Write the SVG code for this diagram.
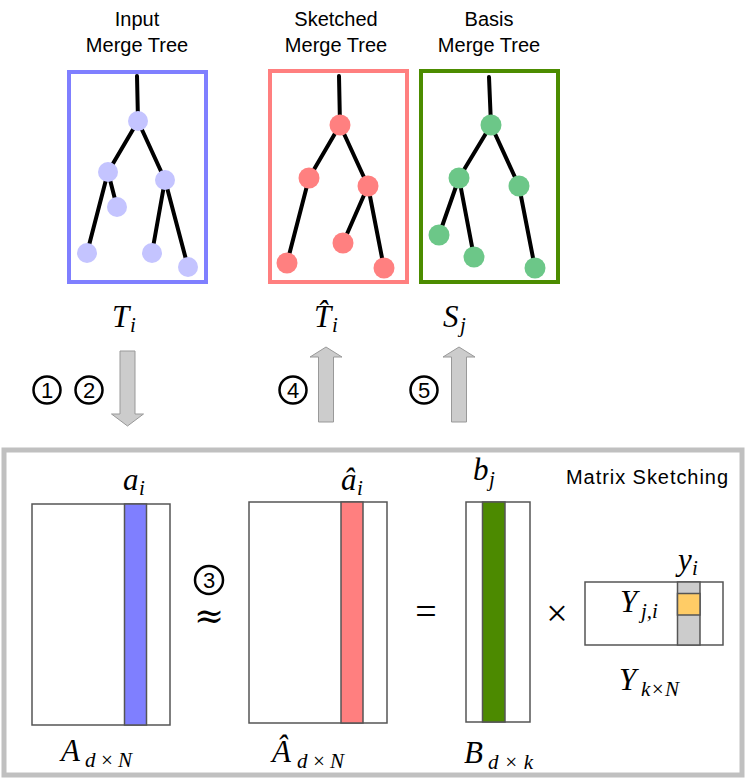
<svg xmlns="http://www.w3.org/2000/svg" width="747" height="781" viewBox="0 0 747 781">
<style>
.lbl{font-family:"Liberation Sans",Arial,sans-serif;font-size:20px;fill:#000;text-anchor:middle}
.edge{stroke:#000;stroke-width:4;stroke-linecap:round;fill:none}
.m{font-family:"Liberation Serif","DejaVu Serif",serif;font-style:italic;font-size:31px;fill:#000}
.s{font-family:"Liberation Serif","DejaVu Serif",serif;font-style:italic;font-size:21px;fill:#000}
.op{font-family:"Liberation Serif","DejaVu Serif",serif;font-size:38px;fill:#000;text-anchor:middle}
.num{font-family:"Liberation Sans",Arial,sans-serif;font-size:22px;fill:#000;text-anchor:middle}
.ring{fill:#fff;stroke:#000;stroke-width:2.5}
.arr{fill:#cccccc;stroke:#999;stroke-width:1}
.mat{fill:#fff;stroke:#555;stroke-width:1.5}
.col{stroke:#555;stroke-width:1.5}
</style>

<g id="input-tree">
<text class="lbl" x="137" y="26">Input</text>
<text class="lbl" x="137" y="52">Merge Tree</text>
<rect x="69" y="72" width="137" height="210" fill="#fff" stroke="#7f7fff" stroke-width="4"/>
<g class="edge">
<line x1="137" y1="76" x2="138" y2="121"/>
<line x1="138" y1="121" x2="108" y2="172"/>
<line x1="138" y1="121" x2="165" y2="180"/>
<line x1="108" y1="172" x2="87" y2="253"/>
<line x1="108" y1="172" x2="117" y2="207"/>
<line x1="165" y1="180" x2="152" y2="253"/>
<line x1="165" y1="180" x2="188" y2="267"/>
</g>
<g fill="#c4c4ff">
<circle cx="138" cy="121" r="10"/>
<circle cx="108" cy="172" r="10"/>
<circle cx="165" cy="180" r="10"/>
<circle cx="87" cy="253" r="10"/>
<circle cx="117" cy="207" r="10"/>
<circle cx="152" cy="253" r="10"/>
<circle cx="188" cy="267" r="10"/>
</g>
<text class="m" x="112" y="327">T</text><text class="s" x="130" y="332">i</text>
</g>

<g id="sketched-tree">
<text class="lbl" x="336" y="26">Sketched</text>
<text class="lbl" x="336" y="52">Merge Tree</text>
<rect x="270" y="71" width="137" height="211" fill="#fff" stroke="#ff7f7f" stroke-width="4"/>
<g class="edge">
<line x1="339" y1="76" x2="340" y2="125"/>
<line x1="340" y1="125" x2="309" y2="178"/>
<line x1="340" y1="125" x2="368" y2="186"/>
<line x1="309" y1="178" x2="287" y2="263"/>
<line x1="368" y1="186" x2="343" y2="243"/>
<line x1="368" y1="186" x2="384" y2="268"/>
</g>
<g fill="#ff8080">
<circle cx="340" cy="125" r="10.5"/>
<circle cx="309" cy="178" r="10.5"/>
<circle cx="368" cy="186" r="10.5"/>
<circle cx="287" cy="263" r="10.5"/>
<circle cx="343" cy="243" r="10.5"/>
<circle cx="384" cy="268" r="10.5"/>
</g>
<text class="m" x="314" y="327">T̂</text><text class="s" x="332" y="332">i</text>
</g>

<g id="basis-tree">
<text class="lbl" x="489" y="26">Basis</text>
<text class="lbl" x="489" y="52">Merge Tree</text>
<rect x="421" y="71" width="137" height="211" fill="#fff" stroke="#4c8c00" stroke-width="4"/>
<g class="edge">
<line x1="489" y1="77" x2="491" y2="125"/>
<line x1="491" y1="125" x2="459" y2="178"/>
<line x1="491" y1="125" x2="519" y2="186"/>
<line x1="459" y1="178" x2="439" y2="235"/>
<line x1="459" y1="178" x2="474" y2="257"/>
<line x1="519" y1="186" x2="535" y2="268"/>
</g>
<g fill="#6cc788">
<circle cx="491" cy="125" r="10.5"/>
<circle cx="459" cy="178" r="10.5"/>
<circle cx="519" cy="186" r="10.5"/>
<circle cx="439" cy="235" r="10.5"/>
<circle cx="474" cy="257" r="10.5"/>
<circle cx="535" cy="268" r="10.5"/>
</g>
<text class="m" x="443" y="327">S</text><text class="s" x="460" y="332">j</text>
</g>

<g id="connectors">
<polygon class="arr" points="120,351 135,351 135,414 143.5,414 127.5,426 111.5,414 120,414"/>
<polygon class="arr" points="318.5,422 333.5,422 333.5,357 342,357 326,347 310,357 318.5,357"/>
<polygon class="arr" points="451.5,422 466.5,422 466.5,357 475,357 459,347 443,357 451.5,357"/>
</g>

<g id="steps">
<circle class="ring" cx="47" cy="390" r="13.5"/><text class="num" x="47" y="398">1</text>
<circle class="ring" cx="89" cy="390" r="13.5"/><text class="num" x="89" y="398">2</text>
<circle class="ring" cx="293" cy="390" r="13.5"/><text class="num" x="293" y="398">4</text>
<circle class="ring" cx="424" cy="390" r="13.5"/><text class="num" x="424" y="398">5</text>
</g>

<g id="matrix-sketching">
<rect x="4" y="450" width="738" height="325" fill="none" stroke="#c0c0c0" stroke-width="5"/>
<text x="566" y="484" font-family="Liberation Sans,Arial,sans-serif" font-size="20" textLength="162" lengthAdjust="spacing">Matrix Sketching</text>

<g id="matrix-A">
<rect class="mat" x="32" y="504" width="138" height="221"/>
<rect class="col" x="124.5" y="504" width="22" height="221" fill="#7f7fff"/>
<text class="m" x="123" y="490">a</text><text class="s" x="139" y="495">i</text>
<text class="m" x="61" y="761">A</text><text class="s" x="85" y="767" textLength="47" lengthAdjust="spacing">d×N</text>
</g>

<g id="step3">
<circle class="ring" cx="209" cy="580" r="14"/><text class="num" x="209" y="588">3</text>
<text x="209" y="628" font-family="DejaVu Serif,serif" font-size="36" text-anchor="middle">≈</text>
</g>

<g id="matrix-Ahat">
<rect class="mat" x="249" y="502" width="138" height="221"/>
<rect class="col" x="341" y="502" width="22" height="221" fill="#ff7f7f"/>
<text class="m" x="341" y="490">â</text><text class="s" x="357" y="495">i</text>
<text class="m" x="272" y="762">Â</text><text class="s" x="297" y="768" textLength="47" lengthAdjust="spacing">d×N</text>
</g>

<text class="op" x="426" y="624">=</text>

<g id="matrix-B">
<rect class="mat" x="466" y="502" width="64" height="220"/>
<rect class="col" x="482.5" y="502" width="22.5" height="220" fill="#4c8a00"/>
<text class="m" x="473" y="480">b</text><text class="s" x="489" y="486">j</text>
<text class="m" x="464" y="763">B</text><text class="s" x="488" y="769" textLength="45" lengthAdjust="spacing">d×k</text>
</g>

<text class="op" x="557" y="626">×</text>

<g id="matrix-Y">
<rect class="mat" x="585" y="582" width="138" height="63"/>
<rect class="col" x="677.5" y="582" width="22.5" height="63" fill="#cccccc"/>
<rect class="col" x="677.5" y="593.5" width="22.5" height="21.5" fill="#ffcc66"/>
<text class="m" x="678" y="570">y</text><text class="s" x="692" y="575">i</text>
<text class="m" x="620" y="612">Y</text><text class="s" x="641" y="618">j,i</text>
<text class="m" x="619" y="690">Y</text><text class="s" x="641" y="696" textLength="38" lengthAdjust="spacing">k×N</text>
</g>
</g>
</svg>
